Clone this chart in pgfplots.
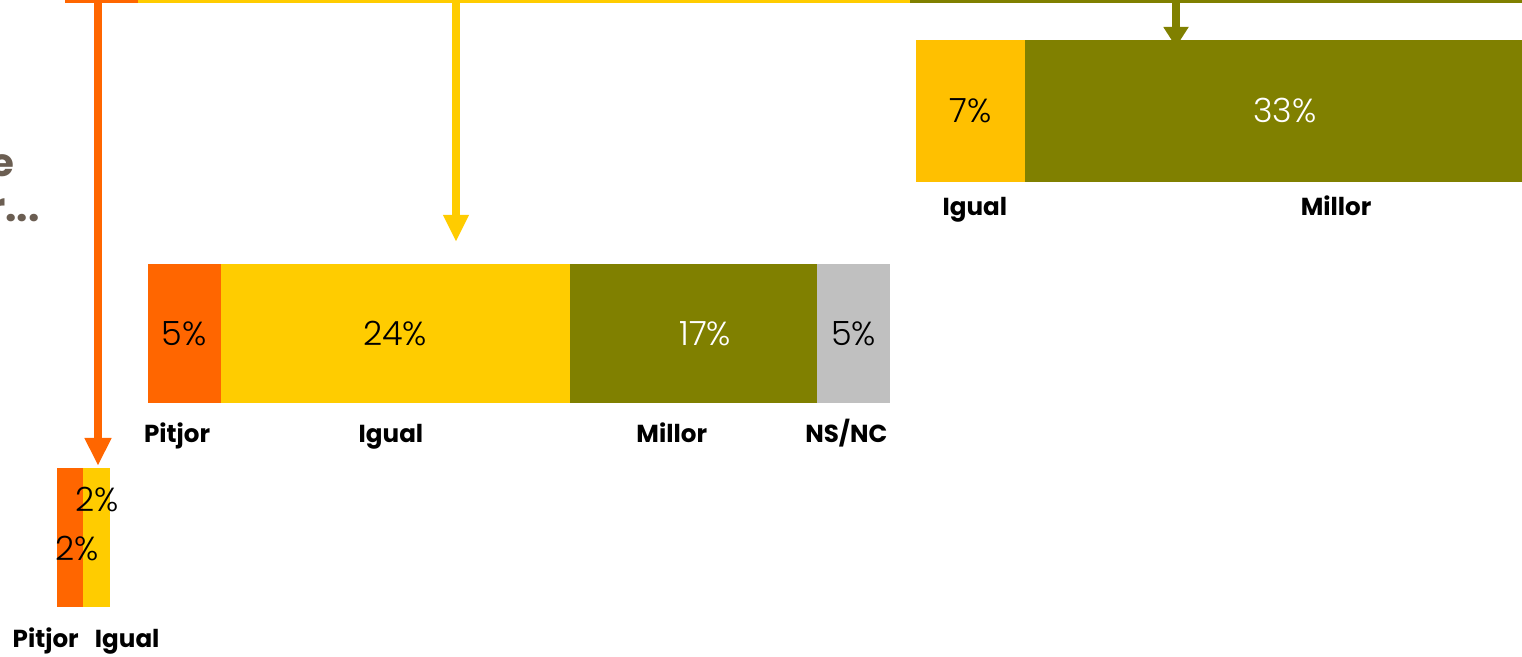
\documentclass[border=0pt]{standalone}
\usepackage{fontspec}
\setmainfont{Poppins}
\newfontfamily\lightfont{Poppins Light}
\usepackage{pgfplots}
\pgfplotsset{compat=1.18}
\usetikzlibrary{arrows.meta}

\definecolor{cPit}{HTML}{FF6600}
\definecolor{cIgu}{HTML}{FFCC00}
\definecolor{cIguB}{HTML}{FFC000}
\definecolor{cMil}{HTML}{808000}
\definecolor{cNs}{HTML}{C0C0C0}
\definecolor{cTxt}{HTML}{6B5E52}

% 1 px of the reference = 0.02cm
\newcommand{\pct}[1]{{\lightfont\fontsize{19}{19}\selectfont #1\%}}
\newcommand{\cat}[1]{{\bfseries\fontsize{14}{14}\selectfont #1}}

\pgfplotsset{
  stackbar/.style={
    scale only axis, anchor=south west, hide axis, clip=false,
    xbar stacked, xmin=0, ymin=-0.5, ymax=0.5,
    enlargelimits=false,
  },
  seg/.style={fill=#1, draw=none},
}

\begin{document}
\begin{tikzpicture}
\useasboundingbox (0,0) rectangle (30.44cm,13.14cm);
\clip (0,0) rectangle (30.44cm,13.14cm);

% cropped text on the left
\node[anchor=base east, text=cTxt, font=\bfseries\fontsize{22}{22}\selectfont,
      inner sep=0pt] at (0.30cm,9.60cm) {e};
\node[anchor=base east, text=cTxt, font=\bfseries\fontsize{23}{23}\selectfont,
      inner sep=0pt] at (0.80cm,8.70cm) {r...};

% top bar (only its lower edge is visible)
\begin{axis}[stackbar, at={(1.30cm,13.08cm)}, width=29.14cm, height=2.8cm,
             bar width=2.8cm, xmax=100]
  \addplot[seg=cPit] coordinates {(5,0)};
  \addplot[seg=cIgu] coordinates {(53,0)};
  \addplot[seg=cMil] coordinates {(42,0)};
\end{axis}

% Pitjor -> sub-bar
\begin{axis}[stackbar, at={(1.14cm,1.00cm)}, width=1.06cm, height=2.78cm,
             bar width=2.78cm, xmax=4]
  \addplot[seg=cPit] coordinates {(2,0)};
  \addplot[seg=cIgu] coordinates {(2,0)};
  \coordinate (p1) at (axis cs:1.55,-0.08);
  \coordinate (p2) at (axis cs:3.05,0.27);
  \coordinate (p1l) at (axis cs:-0.85,-0.5);
  \coordinate (p2l) at (axis cs:5.3,-0.5);
\end{axis}
\node at (p1) {\pct{2}};
\node at (p2) {\pct{2}};
\node[anchor=base, yshift=-0.82cm] at (p1l) {\cat{Pitjor}};
\node[anchor=base, yshift=-0.82cm] at (p2l) {\cat{Igual}};

% Igual -> sub-bar
\begin{axis}[stackbar, at={(2.96cm,5.08cm)}, width=14.84cm, height=2.78cm,
             bar width=2.78cm, xmax=51]
  \addplot[seg=cPit] coordinates {(5,0)};
  \addplot[seg=cIgu] coordinates {(24,0)};
  \addplot[seg=cMil] coordinates {(17,0)};
  \addplot[seg=cNs]  coordinates {(5,0)};
  \coordinate (i1) at (axis cs:2.5,0);
  \coordinate (i2) at (axis cs:17,0);
  \coordinate (i3) at (axis cs:38.3,0);
  \coordinate (i4) at (axis cs:48.5,0);
  \coordinate (i1l) at (axis cs:2.0,-0.5);
  \coordinate (i2l) at (axis cs:16.7,-0.5);
  \coordinate (i3l) at (axis cs:36.0,-0.5);
  \coordinate (i4l) at (axis cs:48.0,-0.5);
\end{axis}
\node at (i1) {\pct{5}};
\node at (i2) {\pct{24}};
\node[text=white] at (i3) {\pct{17}};
\node at (i4) {\pct{5}};
\node[anchor=base, yshift=-0.80cm] at (i1l) {\cat{Pitjor}};
\node[anchor=base, yshift=-0.80cm] at (i2l) {\cat{Igual}};
\node[anchor=base, yshift=-0.80cm] at (i3l) {\cat{Millor}};
\node[anchor=base, yshift=-0.80cm] at (i4l) {\cat{NS/NC}};

% Millor -> sub-bar (runs past the right edge)
\begin{axis}[stackbar, at={(18.32cm,9.50cm)}, width=12.4cm, height=2.84cm,
             bar width=2.84cm, xmax=40]
  \addplot[seg=cIguB] coordinates {(7,0)};
  \addplot[seg=cMil]  coordinates {(33,0)};
  \coordinate (m1) at (axis cs:3.5,0);
  \coordinate (m2) at (axis cs:23.8,0);
  \coordinate (m1l) at (axis cs:3.8,-0.5);
  \coordinate (m2l) at (axis cs:27.1,-0.5);
\end{axis}
\node at (m1) {\pct{7}};
\node[text=white] at (m2) {\pct{33}};
\node[anchor=base, yshift=-0.68cm] at (m1l) {\cat{Igual}};
\node[anchor=base, yshift=-0.68cm] at (m2l) {\cat{Millor}};

% arrows from the top bar to the sub-bars
\draw[cPit, line width=0.16cm, -{Triangle[width=0.50cm,length=0.56cm]}]
  (1.96cm,13.08cm) -- (1.96cm,3.82cm);
\draw[cIgu, line width=0.16cm, -{Triangle[width=0.48cm,length=0.54cm]}]
  (9.12cm,13.08cm) -- (9.12cm,8.30cm);
\draw[cMil, line width=0.16cm, -{Triangle[width=0.48cm,length=0.40cm]}]
  (23.52cm,13.08cm) -- (23.52cm,12.20cm);
\end{tikzpicture}
\end{document}
